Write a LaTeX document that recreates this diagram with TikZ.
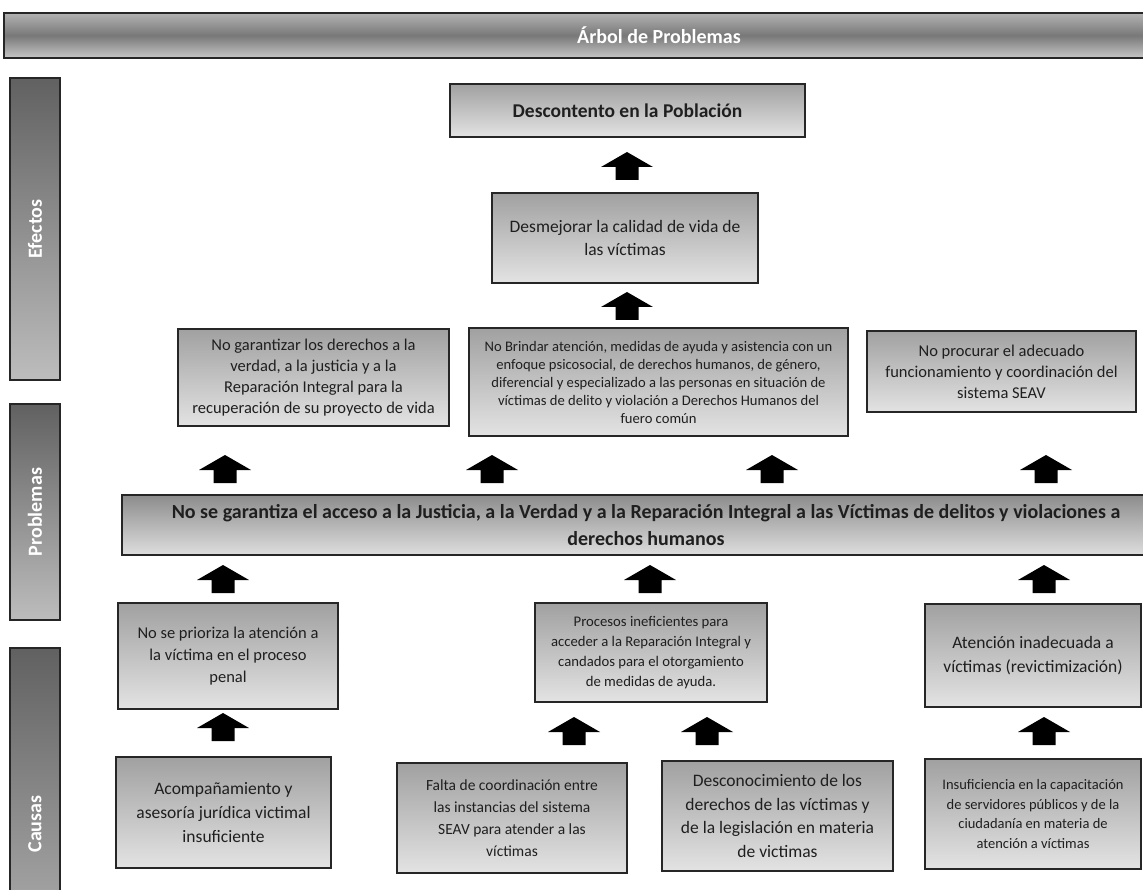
\documentclass[tikz,border=0pt]{standalone}
\usepackage{fontspec}
\setmainfont{Carlito}
\newcommand{\fsz}[2]{\fontsize{#1}{#2}\selectfont}

\begin{document}
\begin{tikzpicture}[x=1pt, y=-1pt,
    cell/.style={draw=black!85, line width=1.3pt, top color=black!37, bottom color=black!11, inner sep=0pt, align=center, text=black!88},
    side/.style={draw=black!85, line width=1.3pt, rotate=90, top color=black!62, bottom color=black!26, inner sep=0pt, text=white, font=\fsz{20}{22}\bfseries},
    uparrow/.pic={\fill[black] (-11.5,0) -- (-11.5,-13) -- (-26,-13) -- (0,-28) -- (26,-13) -- (11.5,-13) -- (11.5,0) -- cycle;}]

    \useasboundingbox (0,0) rectangle (1143,890);

    % Title
    \node[draw=black!85, line width=1.5pt, top color=black!30, bottom color=black!22, middle color=black!53, minimum width=1310pt, minimum height=45pt, inner sep=0pt, text=white, font=\fsz{20}{24}\bfseries] (titulo) at (659,35.5) {Árbol de Problemas};

    % Side labels
    \node[side, minimum width=302pt, minimum height=50pt] (efectos) at (35,229) {Efectos};
    \node[side, minimum width=216pt, minimum height=50pt] (problemas) at (35,512) {Problemas};
    \node[side, minimum width=352pt, minimum height=50pt] (causas) at (35,824) {Causas};

    % Effects
    \node[cell, minimum width=355pt, minimum height=53pt, font=\fsz{19.5}{23}\bfseries] (descontento) at (627.5,110.5) {Descontento en la Población};
    \node[cell, minimum width=266pt, minimum height=90pt, font=\fsz{17.5}{23}] (desmejorar) at (625,238) {Desmejorar la calidad de vida de\\las víctimas};
    \node[cell, minimum width=271pt, minimum height=97pt, font=\fsz{16.5}{21}] (noGarantizar) at (313.5,377.5) {No garantizar los derechos a la\\verdad, a la justicia y a la\\Reparación Integral para la\\recuperación de su proyecto de vida};
    \node[cell, minimum width=379pt, minimum height=108pt, font=\fsz{14.6}{18}] (noBrindar) at (658.5,382) {No Brindar atención, medidas de ayuda y asistencia con un\\enfoque psicosocial, de derechos humanos, de género,\\diferencial y especializado a las personas en situación de\\víctimas de delito y violación a Derechos Humanos del\\fuero común};
    \node[cell, minimum width=269pt, minimum height=81pt, font=\fsz{16.5}{21}] (noProcurar) at (1001.5,371.5) {No procurar el adecuado\\funcionamiento y coordinación del\\sistema SEAV};

    % Central problem
    \node[cell, top color=black!45, bottom color=black!13, minimum width=1048pt, minimum height=60pt, font=\fsz{20}{27}\bfseries] (problema) at (646,525) {No se garantiza el acceso a la Justicia, a la Verdad y a la Reparación Integral a las Víctimas de delitos y violaciones a\\derechos humanos};

    % Causes
    \node[cell, minimum width=220pt, minimum height=106pt, font=\fsz{16.5}{22}] (noPrioriza) at (228,656) {No se prioriza la atención a\\la víctima en el proceso\\penal};
    \node[cell, minimum width=232pt, minimum height=99pt, font=\fsz{14.7}{20}] (procesos) at (651,652.5) {Procesos ineficientes para\\acceder a la Reparación Integral y\\candados para el otorgamiento\\de medidas de ayuda.};
    \node[cell, minimum width=216pt, minimum height=103pt, font=\fsz{17.5}{24}] (atencion) at (1033,655.5) {Atención inadecuada a\\víctimas (revictimización)};

    % Root causes
    \node[cell, minimum width=215pt, minimum height=111pt, font=\fsz{17.5}{24}] (acompanamiento) at (223.5,812.5) {Acompañamiento y\\asesoría jurídica victimal\\insuficiente};
    \node[cell, minimum width=230pt, minimum height=110pt, font=\fsz{15.5}{22}] (faltaCoord) at (512,818) {Falta de coordinación entre\\las instancias del sistema\\SEAV para atender a las\\víctimas};
    \node[cell, minimum width=231pt, minimum height=110pt, font=\fsz{17.5}{23.5}] (desconocimiento) at (777.5,816) {Desconocimiento de los\\derechos de las víctimas y\\de la legislación en materia\\de victimas};
    \node[cell, minimum width=216pt, minimum height=110pt, font=\fsz{14.5}{19.5}] (insuficiencia) at (1033,814) {Insuficiencia en la capacitación\\de servidores públicos y de la\\ciudadanía en materia de\\atención a víctimas};

    % Arrows
    \pic at (627,180) {uparrow};
    \pic at (627,320) {uparrow};
    \foreach \ax in {225,492,772,1046}
        \pic at (\ax,483) {uparrow};
    \foreach \ax in {223,650,1044}
        \pic at (\ax,593) {uparrow};
    \pic at (223,741) {uparrow};
    \foreach \ax in {574,707,1044}
        \pic at (\ax,745) {uparrow};

\end{tikzpicture}
\end{document}
